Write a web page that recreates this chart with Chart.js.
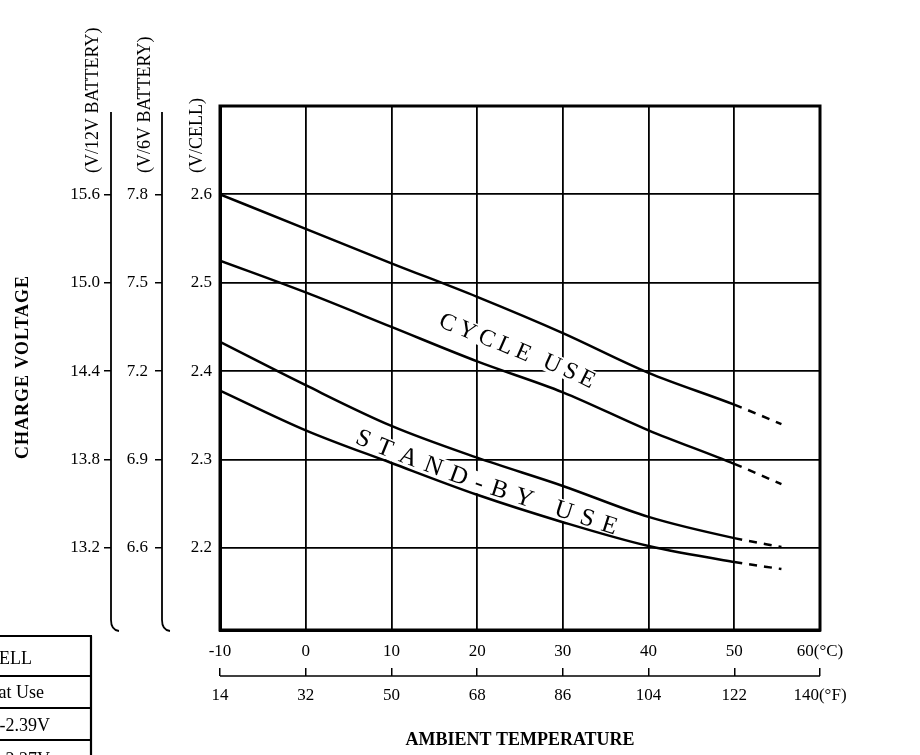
<!DOCTYPE html>
<html>
<head>
<meta charset="utf-8">
<script src="https://cdn.jsdelivr.net/npm/chart.js@4.4.0/dist/chart.umd.min.js"></script>
<style>
html,body{margin:0;padding:0;background:#fff;}
#wrap{width:920px;height:755px;position:relative;background:#fff;}
canvas{display:block;}
</style>
</head>
<body>
<div id="wrap"><canvas id="c" width="920" height="755"></canvas></div>
<script>
// ---- data ----
const tempC        = [-10, 0, 10, 20, 30, 40, 50, 55.5];
const cycleUpper   = [2.600, 2.561, 2.522, 2.484, 2.443, 2.398, 2.362, 2.340];
const cycleLower   = [2.525, 2.489, 2.450, 2.411, 2.376, 2.333, 2.295, 2.272];
const standbyUpper = [2.433, 2.384, 2.338, 2.302, 2.270, 2.235, 2.211, 2.201];
const standbyLower = [2.378, 2.333, 2.296, 2.260, 2.229, 2.202, 2.184, 2.176];

const celsiusTicks     = [-10, 0, 10, 20, 30, 40, 50, 60];
const celsiusLabels    = ['-10', '0', '10', '20', '30', '40', '50', '60(°C)'];
const fahrenheitTicks  = [14, 32, 50, 68, 86, 104, 122, 140];
const fahrenheitLabels = ['14', '32', '50', '68', '86', '104', '122', '140(°F)'];
const cellTicks = [2.2, 2.3, 2.4, 2.5, 2.6];
const v6Ticks   = [6.6, 6.9, 7.2, 7.5, 7.8];
const v12Ticks  = [13.2, 13.8, 14.4, 15.0, 15.6];
const cellMin = 2.107, cellMax = 2.7;

const axisTitles = ['(V/12V BATTERY)', '(V/6V BATTERY)', '(V/CELL)'];
const yTitle = 'CHARGE VOLTAGE';
const xTitle = 'AMBIENT TEMPERATURE';
const cycleText = 'CYCLE USE';
const standbyText = 'STAND-BY USE';
const tableRows = ['V/CELL', 'Float Use', '2.35-2.39V', '2.23-2.27V'];

const SERIF = '"Liberation Serif", "Times New Roman", serif';

function interp(arr, t) {
  for (let i = 0; i < tempC.length - 1; i++) {
    if (t <= tempC[i + 1]) {
      const f = (t - tempC[i]) / (tempC[i + 1] - tempC[i]);
      return arr[i] + f * (arr[i + 1] - arr[i]);
    }
  }
  return arr[arr.length - 1];
}

function drawPathText(chart, text, A, B, t0, spacing, size, off, extraRot) {
  const ctx = chart.ctx, xs = chart.scales.x, ys = chart.scales.y;
  const pts = [];
  for (let t = t0 - 3; t <= 55; t += 0.1) {
    pts.push({ t: t, x: xs.getPixelForValue(t),
      y: (ys.getPixelForValue(interp(A, t)) + ys.getPixelForValue(interp(B, t))) / 2 + off });
  }
  const cum = [0];
  for (let i = 1; i < pts.length; i++) cum.push(cum[i - 1] + Math.hypot(pts[i].x - pts[i - 1].x, pts[i].y - pts[i - 1].y));
  let i0 = 0; while (pts[i0].t < t0) i0++;
  const s0 = cum[i0];
  function at(s) {
    let i = 1; while (i < pts.length - 1 && cum[i] < s) i++;
    const f = (s - cum[i - 1]) / (cum[i] - cum[i - 1] || 1);
    const x = pts[i - 1].x + f * (pts[i].x - pts[i - 1].x);
    const y = pts[i - 1].y + f * (pts[i].y - pts[i - 1].y);
    const a1 = pts[Math.max(0, i - 25)], a2 = pts[Math.min(pts.length - 1, i + 25)];
    return { x: x, y: y, a: Math.atan2(a2.y - a1.y, a2.x - a1.x) + extraRot };
  }
  ctx.save();
  ctx.font = size + 'px ' + SERIF;
  let s = s0;
  for (const ch of text) {
    const w = ctx.measureText(ch).width;
    const c = at(s + w / 2);
    ctx.save();
    ctx.translate(c.x, c.y);
    ctx.rotate(c.a);
    ctx.fillStyle = '#fff';
    ctx.fillRect(-w / 2 - spacing / 2 - 0.5, -size * 0.42, w + spacing + 1, size * 0.84);
    ctx.fillStyle = '#000';
    ctx.textAlign = 'center';
    ctx.textBaseline = 'middle';
    ctx.fillText(ch, 0, 1);
    ctx.restore();
    s += w + spacing;
  }
  ctx.restore();
}

const decor = {
  id: 'decor',
  beforeDatasetsDraw(chart) {
    drawPathText(chart, cycleText, cycleUpper, cycleLower, 15.6, 4.5, 24, 5, 0.04);
    drawPathText(chart, standbyText, standbyUpper, standbyLower, 5.9, 8.7, 25, 6, 0);
  },
  afterDraw(chart) {
    const ctx = chart.ctx, a = chart.chartArea, sc = chart.scales;
    ctx.save();
    ctx.strokeStyle = '#000';
    ctx.fillStyle = '#000';
    // plot frame
    ctx.lineWidth = 3;
    ctx.strokeRect(a.left, a.top, a.right - a.left, a.bottom - a.top);
    // extra left axis lines with hooks
    ctx.lineWidth = 1.8;
    [sc.y12, sc.y6].forEach(s => {
      const x = s.right;
      ctx.beginPath();
      ctx.moveTo(x, 112);
      ctx.lineTo(x, 620);
      ctx.quadraticCurveTo(x, 630, x + 8, 631);
      ctx.stroke();
    });
    // fahrenheit bracket line
    const f = sc.xF;
    ctx.lineWidth = 1.6;
    ctx.beginPath();
    ctx.moveTo(f.left, f.top + 8);
    ctx.lineTo(f.right, f.top + 8);
    ctx.stroke();
    // rotated axis titles
    ctx.font = '18px ' + SERIF;
    ctx.textAlign = 'left';
    ctx.textBaseline = 'middle';
    const tx = [93, 145, 197];
    axisTitles.forEach((t, i) => {
      ctx.save();
      ctx.translate(tx[i], 173);
      ctx.rotate(-Math.PI / 2);
      ctx.fillText(t, 0, 0);
      ctx.restore();
    });
    ctx.save();
    ctx.font = 'bold 18px ' + SERIF;
    ctx.letterSpacing = '1px';
    ctx.textAlign = 'center';
    ctx.translate(23, 367);
    ctx.rotate(-Math.PI / 2);
    ctx.fillText(yTitle, 0, 0);
    ctx.restore();
    // cropped table at bottom-left
    ctx.lineWidth = 2.2;
    ctx.beginPath();
    ctx.moveTo(91, 636); ctx.lineTo(91, 755);
    [636, 676, 708, 740].forEach(y => { ctx.moveTo(0, y); ctx.lineTo(92, y); });
    ctx.stroke();
    ctx.font = '18px ' + SERIF;
    ctx.textAlign = 'right';
    ctx.textBaseline = 'middle';
    const ty = [659, 693, 726, 760], tr = [32, 44, 50, 50];
    tableRows.forEach((t, i) => ctx.fillText(t, tr[i], ty[i]));
    ctx.restore();
  }
};

function mk(arr) { return tempC.map((t, i) => ({ x: t, y: arr[i] })); }
function ds(arr) {
  return {
    data: mk(arr), borderColor: '#000', borderWidth: 2.5, pointRadius: 0,
    cubicInterpolationMode: 'monotone', fill: false, xAxisID: 'x', yAxisID: 'y',
    segment: { borderDash: c => (c.p0DataIndex >= 6 ? [8, 7] : undefined) }
  };
}
const tickFont = { family: SERIF, size: 17 };

new Chart(document.getElementById('c'), {
  type: 'line',
  data: { datasets: [ds(cycleUpper), ds(cycleLower), ds(standbyUpper), ds(standbyLower)] },
  options: {
    responsive: false, animation: false, devicePixelRatio: 1,
    layout: { padding: { left: 0, right: 100, top: 106, bottom: 0 } },
    plugins: { legend: { display: false }, tooltip: { enabled: false } },
    scales: {
      x: {
        type: 'linear', position: 'bottom', weight: 0, min: -10, max: 60,
        afterBuildTicks: s => { s.ticks = celsiusTicks.map(v => ({ value: v })); },
        afterFit: s => { s.height = 38; },
        ticks: { callback: (v, i) => celsiusLabels[i], color: '#000', font: tickFont, padding: 11, maxRotation: 0, autoSkip: false },
        grid: { color: '#000', lineWidth: 1.8, drawTicks: false },
        border: { display: true, color: '#000', width: 3 }
      },
      xF: {
        type: 'linear', position: 'bottom', weight: 1, min: 14, max: 140,
        afterBuildTicks: s => { s.ticks = fahrenheitTicks.map(v => ({ value: v })); },
        afterFit: s => { s.height = 87; },
        ticks: { callback: (v, i) => fahrenheitLabels[i], color: '#000', font: tickFont, padding: 9, maxRotation: 0, autoSkip: false },
        grid: { drawOnChartArea: false, drawTicks: true, tickLength: 8, color: '#000', lineWidth: 1.5 },
        border: { display: false },
        title: { display: true, text: xTitle, color: '#000', font: { family: SERIF, size: 18, weight: 'bold' }, padding: { top: 0, bottom: 4 } }
      },
      y: {
        type: 'linear', position: 'left', weight: 0, min: cellMin, max: cellMax,
        afterBuildTicks: s => { s.ticks = cellTicks.map(v => ({ value: v })); },
        afterFit: s => { s.width = 58; },
        ticks: { callback: v => v.toFixed(1), color: '#000', font: tickFont, padding: 8 },
        grid: { color: '#000', lineWidth: 1.8, drawTicks: false },
        border: { display: true, color: '#000', width: 3 }
      },
      y6: {
        type: 'linear', position: 'left', weight: 1, min: cellMin * 3, max: cellMax * 3,
        afterBuildTicks: s => { s.ticks = v6Ticks.map(v => ({ value: v })); },
        afterFit: s => { s.width = 51; },
        ticks: { callback: v => v.toFixed(1), color: '#000', font: tickFont, padding: 7 },
        grid: { drawOnChartArea: false, drawTicks: true, tickLength: 7, color: '#000', lineWidth: 1.5 },
        border: { display: false }
      },
      y12: {
        type: 'linear', position: 'left', weight: 2, min: cellMin * 6, max: cellMax * 6,
        afterBuildTicks: s => { s.ticks = v12Ticks.map(v => ({ value: v })); },
        afterFit: s => { s.width = 111; },
        ticks: { callback: v => v.toFixed(1), color: '#000', font: tickFont, padding: 4 },
        grid: { drawOnChartArea: false, drawTicks: true, tickLength: 7, color: '#000', lineWidth: 1.5 },
        border: { display: false }
      }
    }
  },
  plugins: [decor]
});
</script>
</body>
</html>
